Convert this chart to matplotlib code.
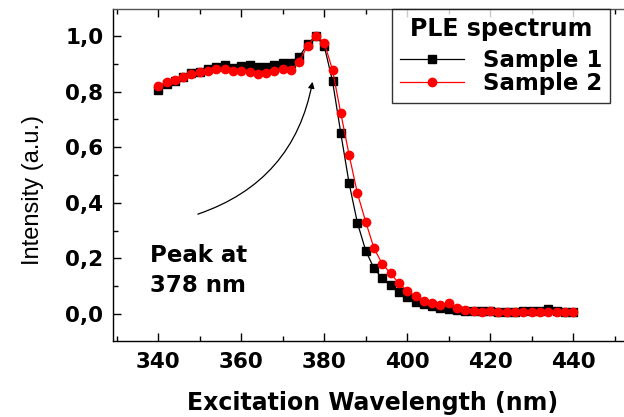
import matplotlib
matplotlib.use('Agg')
import matplotlib.pyplot as plt
import numpy as np
from matplotlib.ticker import MultipleLocator, FuncFormatter

plt.rcParams['font.family'] = ['DejaVu Sans']

# excitation wavelength (nm), 2 nm step
wavelength = list(range(340, 442, 2))

sample1 = [0.806, 0.826, 0.838, 0.854, 0.866, 0.872, 0.883, 0.890, 0.896, 0.885,
           0.892, 0.894, 0.890, 0.890, 0.896, 0.902, 0.902, 0.926, 0.971, 1.000,
           0.964, 0.838, 0.650, 0.470, 0.328, 0.228, 0.164, 0.128, 0.104, 0.078,
           0.060, 0.045, 0.035, 0.029, 0.023, 0.018, 0.015, 0.012, 0.011, 0.010,
           0.010, 0.009, 0.009, 0.009, 0.010, 0.010, 0.010, 0.018, 0.012, 0.008,
           0.007]

sample2 = [0.821, 0.833, 0.842, 0.854, 0.863, 0.869, 0.875, 0.880, 0.880, 0.875,
           0.873, 0.872, 0.864, 0.868, 0.875, 0.880, 0.878, 0.908, 0.965, 1.000,
           0.976, 0.878, 0.722, 0.572, 0.434, 0.332, 0.236, 0.180, 0.146, 0.110,
           0.084, 0.065, 0.048, 0.041, 0.032, 0.038, 0.020, 0.014, 0.011, 0.009,
           0.011, 0.007, 0.007, 0.007, 0.006, 0.006, 0.006, 0.006, 0.006, 0.006,
           0.006]

W, H = 624, 417
fig = plt.figure(figsize=(W / 100, H / 100), dpi=100)
# the right part of the frame is cut off in the original, so the axes run past the edge
ax = fig.add_axes([113 / W, 1 - 341 / H, (640 - 113) / W, (341 - 9) / H])

ax.plot(wavelength, sample1, color='black', lw=0.9, marker='s', ms=5.3,
        mec='black', mfc='black', label='Sample 1')
ax.plot(wavelength, sample2, color='red', lw=0.9, marker='o', ms=6,
        mec='red', mfc='red', label='Sample 2')

ax.set_xlim(329.1, 456.1)
ax.set_ylim(-0.097, 1.097)
ax.xaxis.set_major_locator(MultipleLocator(20))
ax.xaxis.set_minor_locator(MultipleLocator(10))
ax.yaxis.set_major_locator(MultipleLocator(0.2))
ax.yaxis.set_minor_locator(MultipleLocator(0.1))
ax.yaxis.set_major_formatter(FuncFormatter(lambda v, p: f'{v:.1f}'.replace('.', ',')))
ax.tick_params(which='both', direction='in', top=True, right=True, width=1)
ax.tick_params(which='major', length=6, labelsize=15.5)
ax.tick_params(which='minor', length=3.5)
ax.tick_params(axis='y', pad=7)
ax.tick_params(axis='x', pad=8)
for lab in ax.get_xticklabels() + ax.get_yticklabels():
    lab.set_fontweight('bold')
for s in ax.spines.values():
    s.set_linewidth(1)
ax.spines['top'].set_color('#555555')

fig.text(373 / W, 1 - 410 / H, 'Excitation Wavelength (nm)', fontsize=17,
         fontweight='bold', ha='center', va='baseline')
fig.text(33 / W, 1 - 190 / H, 'Intensity (a.u.)', fontsize=17, rotation=90,
         family=['Liberation Sans'], ha='center', va='center')

leg = ax.legend(title='PLE spectrum', loc='upper left',
                bbox_to_anchor=(392 / W, 1 - 9 / H), bbox_transform=fig.transFigure,
                borderaxespad=0, frameon=True, fancybox=False, edgecolor='black',
                prop={'weight': 'bold', 'size': 16.5}, handlelength=2.8,
                handletextpad=0.8, borderpad=0.35, labelspacing=0.0)
leg.get_title().set_fontweight('bold')
leg.get_title().set_fontsize(17)
leg.get_frame().set_linewidth(1)
leg._legend_box.sep = 6  # a bit more room under the legend title

ax.annotate('', xy=(377.3, 0.845), xytext=(348.9, 0.356),
            arrowprops=dict(arrowstyle='-|>', color='black', lw=0.9,
                            connectionstyle='arc3,rad=0.3', mutation_scale=9))
ax.text(338, 0.187, 'Peak at', fontsize=16.5, fontweight='bold', va='baseline')
ax.text(338, 0.079, '378 nm', fontsize=16.5, fontweight='bold', va='baseline')

fig.savefig('out.png', dpi=100)
